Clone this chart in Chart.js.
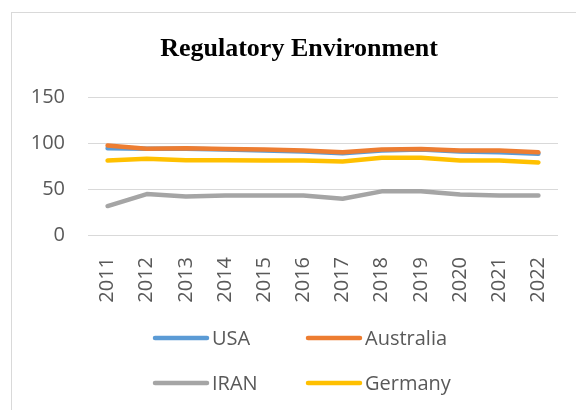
<!DOCTYPE html>
<html>
<head>
<meta charset="utf-8">
<script src="https://cdn.jsdelivr.net/npm/chart.js@4"></script>
<style>
  html, body { margin: 0; padding: 0; background: #fff; overflow: hidden; }
  #frame {
    position: absolute; left: 11px; top: 12px;
    width: 574px; height: 420px;
    border: 1px solid #d9d9d9; box-sizing: border-box;
  }
  #frame canvas { position: absolute; left: 0; top: 0; }
</style>
</head>
<body>
<div id="frame"><canvas id="line-chart" width="574" height="398"></canvas></div>
<script>
// values
const years = ['2011', '2012', '2013', '2014', '2015', '2016', '2017', '2018', '2019', '2020', '2021', '2022'];
const usa = [94.5, 94, 94, 93, 92, 91, 89, 92, 93, 91, 90, 88.5];
const australia = [97.5, 94, 94.5, 93.5, 93, 92, 90, 93, 93.5, 92, 92, 90];
const iran = [31.5, 44.5, 42, 43, 43, 43, 39.5, 47.5, 47.5, 44, 43, 43];
const germany = [81, 83, 81.5, 81.5, 81, 81, 80, 84, 84, 81, 81, 79];
const yTicks = [0, 50, 100, 150];

const textGray = '#595959';
const tickFont = { family: "'Open Sans', sans-serif", size: 20 };

// legend drawn in two columns like the original
const twoColLegend = {
    id: 'twoColLegend',
    afterDraw(chart) {
        const ctx = chart.ctx;
        const cols = [141, 294];
        const rows = [325, 370];
        ctx.save();
        ctx.font = "20px 'Open Sans', sans-serif";
        ctx.textBaseline = 'middle';
        ctx.lineCap = 'round';
        chart.data.datasets.forEach((ds, i) => {
            const x = cols[i % 2];
            const y = rows[Math.floor(i / 2)];
            ctx.strokeStyle = ds.borderColor;
            ctx.lineWidth = 4.5;
            ctx.beginPath();
            ctx.moveTo(x + 2, y);
            ctx.lineTo(x + 54, y);
            ctx.stroke();
            ctx.fillStyle = textGray;
            ctx.fillText(ds.label, x + 59, y + 1);
        });
        ctx.restore();
    }
};

const mk = (label, data, color, order) => ({
    label, data, order,
    borderColor: color,
    backgroundColor: color,
    borderWidth: 4.5,
    pointRadius: 0,
    tension: 0,
    borderCapStyle: 'round',
    borderJoinStyle: 'round'
});

new Chart(document.getElementById('line-chart').getContext('2d'), {
    type: 'line',
    data: {
        labels: years,
        datasets: [
            mk('USA', usa, '#5B9BD5', 4),
            mk('Australia', australia, '#ED7D31', 3),
            mk('IRAN', iran, '#A5A5A5', 2),
            mk('Germany', germany, '#FFC000', 1)
        ]
    },
    options: {
        responsive: false,
        animation: false,
        layout: { padding: { left: 0, right: 0, top: 0, bottom: 96 } },
        plugins: {
            legend: { display: false },
            tooltip: { enabled: false },
            title: {
                display: true,
                text: 'Regulatory Environment',
                color: '#000',
                font: { family: "'Liberation Serif', 'Times New Roman', serif", size: 26, weight: 'bold' },
                padding: { top: 21, bottom: 32 }
            }
        },
        scales: {
            x: {
                offset: true,
                grid: { display: false },
                border: { display: false },
                ticks: {
                    color: textGray, font: tickFont,
                    minRotation: 90, maxRotation: 90, padding: 14,
                    autoSkip: false
                },
                afterFit(scale) { scale.height = 80; }
            },
            y: {
                min: 0, max: 150,
                afterBuildTicks(scale) { scale.ticks = yTicks.map(v => ({ value: v })); },
                grid: { color: '#d9d9d9', lineWidth: 1, drawTicks: false },
                border: { display: false },
                ticks: { color: textGray, font: tickFont, padding: 23 },
                afterFit(scale) { scale.width = 76; }
            },
            // empty right margin so the title stays centred on the whole frame
            gap: {
                type: 'linear', position: 'right', display: true,
                grid: { display: false }, border: { display: false },
                ticks: { display: false },
                afterFit(scale) { scale.width = 28; }
            }
        }
    },
    plugins: [twoColLegend]
});
</script>
</body>
</html>
